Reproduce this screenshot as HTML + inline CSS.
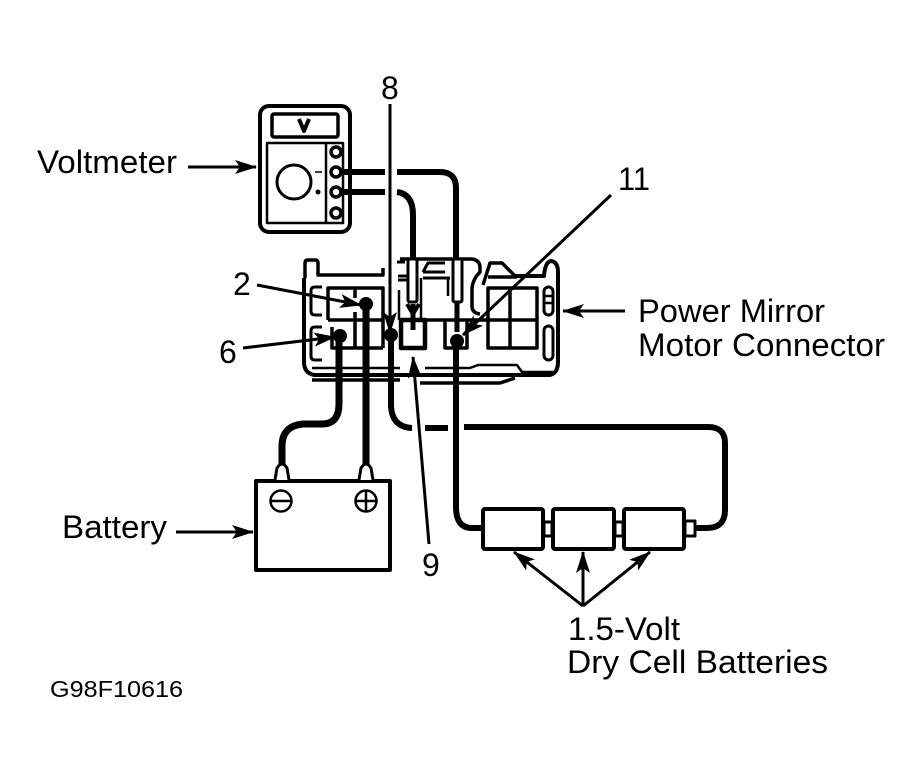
<!DOCTYPE html>
<html><head><meta charset="utf-8"><style>
html,body{margin:0;padding:0;background:#fff}
svg{display:block}
text{font-family:"Liberation Sans",sans-serif;fill:#000}
</style></head><body>
<svg width="922" height="772" viewBox="0 0 922 772" xmlns="http://www.w3.org/2000/svg">
<defs>
<marker id="a" markerUnits="userSpaceOnUse" markerWidth="22" markerHeight="16" refX="21" refY="8" orient="auto"><path d="M0 1L22 8L0 15L5 8Z" fill="#000"/></marker>
</defs>
<rect width="922" height="772" fill="#fff"/>
<g fill="none" stroke="#000" stroke-linejoin="round">
<!-- Voltmeter -->
<rect x="260" y="106" width="90" height="126" rx="9" stroke-width="4"/>
<rect x="272" y="114" width="66" height="23" rx="2" stroke-width="3.500"/>
<rect x="267" y="143" width="76" height="80" stroke-width="2.500"/>
<line x1="326" y1="143" x2="326" y2="223" stroke-width="2.500"/>
<circle cx="294" cy="182" r="17" stroke-width="3"/>
<circle cx="336" cy="152" r="5" stroke-width="3.500"/>
<circle cx="336" cy="172" r="5" stroke-width="3.500"/>
<circle cx="336" cy="192" r="5" stroke-width="3.500"/>
<circle cx="336" cy="213" r="5" stroke-width="3.500"/>
<line x1="315" y1="172" x2="322" y2="172" stroke-width="1.500"/>
<circle cx="318" cy="192" r="2.500" fill="#000" stroke="none"/>
<path d="M299 119L304 131L309 119" stroke-width="4"/>
<!-- Meter wires -->
<path d="M341 172H385M397 172H440Q456 172 456 188V262" stroke-width="6"/>
<path d="M341 192H385M397 192Q413 194 413 215V262" stroke-width="6"/>
<!-- Connector housing -->
<path d="M305 278V263Q305 260 308 260H315Q318 260 318 263V275H383V268" stroke-width="3.500"/>
<path d="M304 278V362Q304 373 314 375H550Q558 373 558 362V272Q558 262 551 261Q545 262 544 276H515" stroke-width="4"/>
<path d="M312 368H400M425 368H470L478 365H517L522 372H553" stroke-width="2.500"/>
<path d="M312 380H400M420 383H500L515 378" stroke-width="3.500"/>
<path d="M420 375H510" stroke-width="2"/>
<!-- Upper clutter -->
<path d="M400 259H470Q480 259 480 268V272Q472 280 472 290V306Q472 313 480 314" stroke-width="3.500"/>
<path d="M483 285L490 263H502L516 277H488" stroke-width="3.500"/>
<path d="M397 262H405M398 276H408M398 280H409M423 272L428 263H445M423 272H445M423 278H450" stroke-width="3"/>
<path d="M421 278V320M399 290V320M448 278V296" stroke-width="2.500"/>
<!-- Connector cavities -->
<path d="M328 320V288H383V348M328 320H383M355 288V298M355 312V348M332 327V348H383" stroke-width="3.500"/>
<path d="M400 320H537V288H488V348H537V320M445 320V348H467V320M510 288V348" stroke-width="3.500"/>
<rect x="401" y="320" width="24" height="28" stroke-width="4.500"/>
<path d="M322 287H315Q311 287 311 291V311Q311 315 315 315H322M322 327H315Q311 327 311 331V356Q311 360 315 360H322" stroke-width="3"/>
<rect x="544" y="287" width="9" height="28" rx="4.500" stroke-width="3"/>
<rect x="544" y="326" width="9" height="34" rx="4.500" stroke-width="3"/>
<path d="M544 296H553M544 303H553" stroke-width="2.500"/>
<!-- Probes -->
<rect x="408" y="259" width="9" height="43" rx="2" fill="#fff" stroke-width="3"/>
<rect x="453" y="259" width="9" height="43" rx="2" fill="#fff" stroke-width="3"/>
<path d="M413 304V330M457 302V332" stroke-width="5"/>
<path d="M407 304L413 314L419 304" stroke-width="4"/>
<!-- Battery wires -->
<path d="M339 336V404Q339 424 322 424H303Q282 426 282 446V466" stroke-width="7"/>
<path d="M366 304V466" stroke-width="7"/>
<path d="M391 335V406Q392 427 412 428" stroke-width="6"/>
<path d="M425 428H448M464 427H708Q725 427 725 443V510Q725 528 707 528H695" stroke-width="6"/>
<path d="M456 341V507Q456 528 472 528H482" stroke-width="6"/>
<!-- Dots -->
<g fill="#000" stroke="none">
<circle cx="366" cy="304" r="7"/><circle cx="340" cy="336" r="7"/><circle cx="391" cy="335" r="7"/><circle cx="457" cy="341" r="7"/>
</g>
<!-- Battery -->
<rect x="256" y="481" width="134" height="89" stroke-width="4"/>
<path d="M275 480L277 468Q282 460 287 468L289 480M359 480L361 468Q366 460 371 468L373 480" stroke-width="3" fill="#fff"/>
<circle cx="281" cy="501" r="10.500" stroke-width="2.500"/>
<circle cx="366" cy="501" r="10.500" stroke-width="2.500"/>
<path d="M271 501H291M356 501H376M366 491V511" stroke-width="2.500"/>
<!-- Cells -->
<rect x="483" y="509" width="60" height="40" rx="2" stroke-width="4"/>
<rect x="553" y="509" width="61" height="40" rx="2" stroke-width="4"/>
<rect x="624" y="509" width="60" height="40" rx="2" stroke-width="4"/>
<rect x="544" y="522" width="8" height="14" stroke-width="3"/>
<rect x="615" y="522" width="8" height="14" stroke-width="3"/>
<rect x="685" y="521" width="10" height="15" stroke-width="3"/>
<!-- Leader arrows -->
<g stroke-width="3" stroke-linejoin="miter">
<line x1="188" y1="167" x2="256" y2="167" marker-end="url(#a)"/>
<line x1="176" y1="532" x2="253" y2="532" marker-end="url(#a)"/>
<line x1="625" y1="311" x2="563" y2="311" marker-end="url(#a)"/>
<line x1="257" y1="285" x2="361" y2="305" marker-end="url(#a)"/>
<line x1="243" y1="348" x2="335" y2="337" marker-end="url(#a)"/>
<line x1="390" y1="104" x2="390" y2="333" marker-end="url(#a)"/>
<line x1="429" y1="544" x2="413" y2="357" marker-end="url(#a)"/>
<line x1="611" y1="195" x2="463" y2="335" marker-end="url(#a)"/>
<line x1="583" y1="606" x2="514" y2="552" marker-end="url(#a)"/>
<line x1="583" y1="606" x2="583" y2="552" marker-end="url(#a)"/>
<line x1="583" y1="606" x2="650" y2="552" marker-end="url(#a)"/>
</g>
</g>
<!-- Labels -->
<g font-size="32">
<text x="37" y="173" textLength="140" lengthAdjust="spacingAndGlyphs">Voltmeter</text>
<text x="381" y="99">8</text>
<text x="618" y="190" textLength="32" lengthAdjust="spacingAndGlyphs">11</text>
<text x="233" y="295">2</text>
<text x="219" y="363">6</text>
<text x="638" y="322" textLength="187" lengthAdjust="spacingAndGlyphs">Power Mirror</text>
<text x="638" y="356" textLength="247" lengthAdjust="spacingAndGlyphs">Motor Connector</text>
<text x="62" y="538" textLength="105" lengthAdjust="spacingAndGlyphs">Battery</text>
<text x="422" y="576">9</text>
<text x="568" y="640" textLength="112" lengthAdjust="spacingAndGlyphs">1.5-Volt</text>
<text x="567" y="673" textLength="261" lengthAdjust="spacingAndGlyphs">Dry Cell Batteries</text>
</g>
<text x="50" y="697" font-size="23" textLength="133" lengthAdjust="spacingAndGlyphs">G98F10616</text>
</svg>
</body></html>
